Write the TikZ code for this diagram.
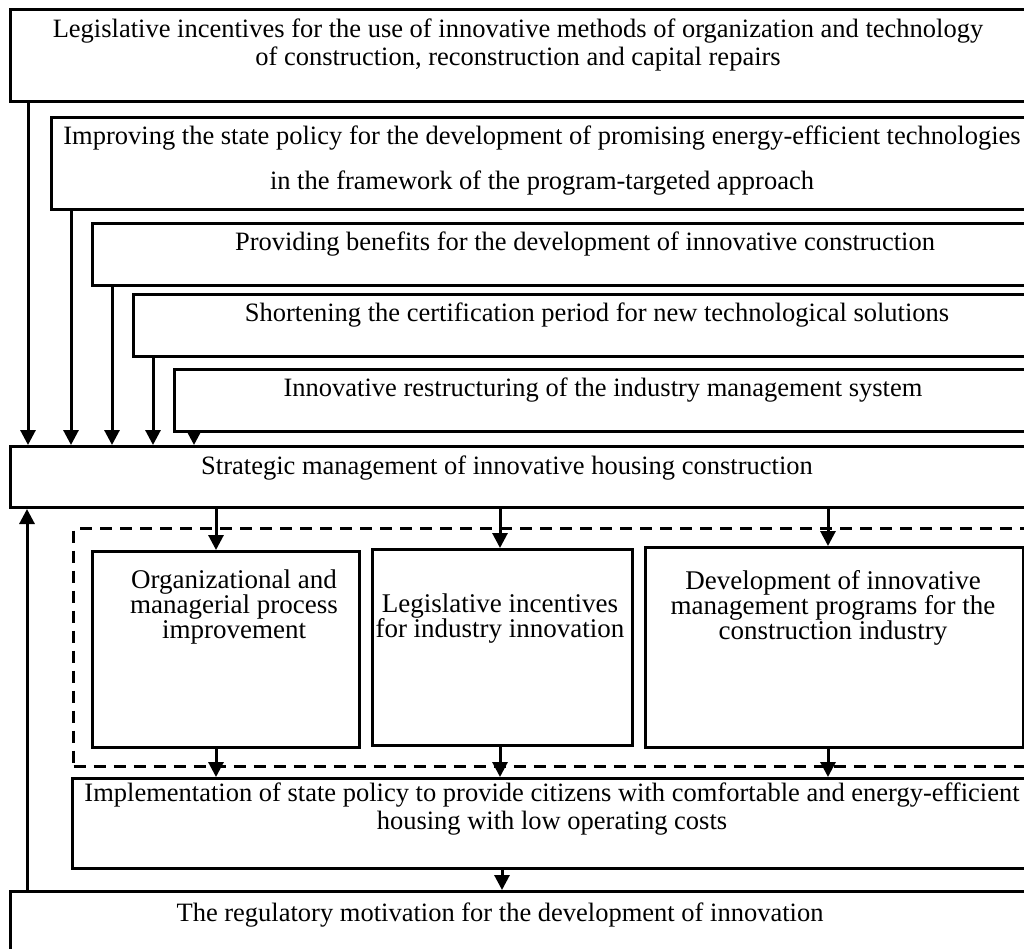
\documentclass[tikz,border=0pt]{standalone}
\usepackage{fontspec}
\setmainfont{Liberation Serif}
\usetikzlibrary{arrows.meta}
\usetikzlibrary{positioning}

\tikzset{
  box/.style={draw, line width=3pt, inner sep=0pt, anchor=north west},
  txt/.style={font=\fontsize{26.5}{28}\selectfont, align=center, inner sep=0pt},
  arr/.style={line width=3pt, -{Triangle[length=15pt,width=15pt]}},
  frame/.style={draw, line width=3pt, dash pattern=on 12pt off 8pt}
}

\begin{document}
\begin{tikzpicture}[x=1pt,y=-1pt]

% Page
\clip (0,0) rectangle (1024,949);

% Upper boxes
\node[box, minimum width=1040pt, minimum height=92pt] (leg) at (9,8) {};
\node[box, minimum width=1000pt, minimum height=92pt] (pol) at (50,116) {};
\node[box, minimum width=960pt, minimum height=62pt] (ben) at (91,222) {};
\node[box, minimum width=920pt, minimum height=62pt] (cert) at (132,293) {};
\node[box, minimum width=880pt, minimum height=62pt] (restr) at (173,368) {};
\node[box, minimum width=1040pt, minimum height=61pt] (strat) at (9,445) {};

\node[txt] (legt) at (518,45) {Legislative incentives for the use of innovative methods of organization and technology\\of construction, reconstruction and capital repairs};
\node[txt, font=\fontsize{26.5}{45}\selectfont] (polt) at (542,161) {Improving the state policy for the development of promising energy-efficient technologies\\in the framework of the program-targeted approach};
\node[txt] (bent) at (585,244) {Providing benefits for the development of innovative construction};
\node[txt] (certt) at (597,315) {Shortening the certification period for new technological solutions};
\node[txt] (restrt) at (603,390) {Innovative restructuring of the industry management system};
\node[txt] (stratt) at (507,468) {Strategic management of innovative housing construction};

% Arrows into the strategic box
\draw[arr] ([xshift=19pt]leg.south west) -- ([xshift=19pt]leg.south west |- strat.north);
\draw[arr] ([xshift=21pt]pol.south west) -- ([xshift=21pt]pol.south west |- strat.north);
\draw[arr] ([xshift=21pt]ben.south west) -- ([xshift=21pt]ben.south west |- strat.north);
\draw[arr] ([xshift=21pt]cert.south west) -- ([xshift=21pt]cert.south west |- strat.north);
\draw[arr] ([xshift=21pt]restr.south west) -- ([xshift=21pt]restr.south west |- strat.north);

% Dashed group
\node[box, frame, minimum width=1000pt, minimum height=238pt] (grp) at (72,527) {};
\node[box, minimum width=267pt, minimum height=196pt] (org) at (91,550) {};
\node[box, minimum width=260pt, minimum height=196pt] (inc) at (371,548) {};
\node[box, minimum width=378pt, minimum height=200pt] (dev) at (644,546) {};

\node[txt, font=\fontsize{27}{25}\selectfont] (orgt) at (234,607) {Organizational and\\managerial process\\improvement};
\node[txt, font=\fontsize{27}{25}\selectfont] (inct) at (500,619) {Legislative incentives\\for industry innovation};
\node[txt, font=\fontsize{27}{25}\selectfont] (devt) at (833,608) {Development of innovative\\management programs for the\\construction industry};

% Lower boxes
\node[box, minimum width=1000pt, minimum height=90pt] (impl) at (71,777) {};
\node[box, minimum width=1040pt, minimum height=70pt] (reg) at (9,890) {};

\node[txt] (implt) at (552,809) {Implementation of state policy to provide citizens with comfortable and energy-efficient\\housing with low operating costs};
\node[txt] (regt) at (500,915) {The regulatory motivation for the development of innovation};

% Arrows through the group
\draw[arr] (216,0 |- strat.south) -- (216,0 |- org.north);
\draw[arr] (500,0 |- strat.south) -- (500,0 |- inc.north);
\draw[arr] (828,0 |- strat.south) -- (828,0 |- dev.north);
\draw[arr] (216,0 |- org.south) -- (216,0 |- impl.north);
\draw[arr] (500,0 |- inc.south) -- (500,0 |- impl.north);
\draw[arr] (828,0 |- dev.south) -- (828,0 |- impl.north);

% Feedback
\draw[arr] (impl.south -| 502,0) -- (reg.north -| 502,0);
\draw[arr] ([xshift=18pt]reg.north west) -- ([xshift=18pt]reg.north west |- strat.south);

\end{tikzpicture}
\end{document}
